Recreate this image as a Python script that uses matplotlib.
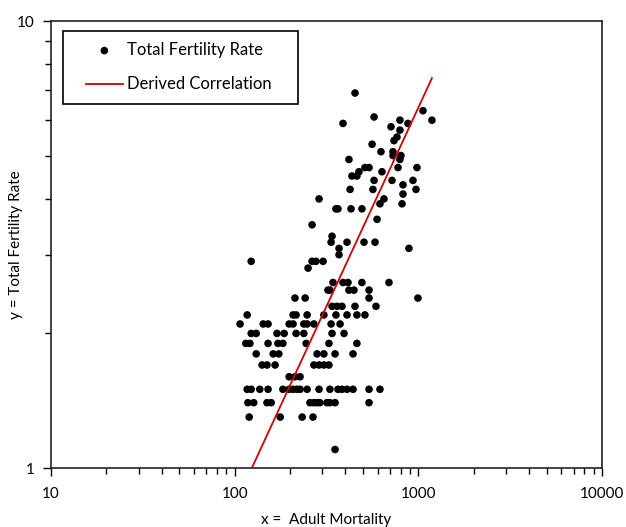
import matplotlib
matplotlib.use("Agg")
import matplotlib.pyplot as plt
from matplotlib.patches import Rectangle
from matplotlib.ticker import LogLocator, FuncFormatter, NullFormatter

plt.rcParams["font.family"] = ["Lato", "DejaVu Sans"]

# adult mortality (x) and total fertility rate (y)
mortality = [
    452, 1060, 1186, 574, 389, 794, 878, 710, 794, 765, 737, 560, 626, 728,
    728, 804, 794, 419, 512, 539, 983, 775, 475, 463, 435, 634, 574, 719,
    935, 825, 425, 566, 971, 825, 650, 618, 815, 288, 356, 365, 430, 493,
    596, 264, 339, 335, 409, 506, 581, 370, 370, 889, 123, 264, 277, 303,
    251,
    343, 389, 414, 493, 692,
    322, 330, 419, 446, 539,
    213, 242, 539, 995,
    339, 361, 384, 452, 588,
    117, 208, 216, 248, 306, 356, 409, 463, 512,
    107, 143, 152, 198, 208, 238, 248, 270, 335, 375,
    123, 131, 170, 186, 216, 238, 339, 394,
    115, 121, 152, 172, 183, 245, 326, 463,
    131, 162, 174, 281, 306, 352, 441,
    141, 150, 166, 270, 288, 306, 326,
    198, 213, 227,
    117, 123, 137, 152, 183, 198, 208, 218, 227, 248, 288, 330, 365, 384,
    409, 441, 539, 618,
    118, 127, 150, 158, 257, 270, 281, 291, 318, 330, 352, 539,
    120, 177, 233, 267,
    352,
]
fertility = [
    6.9, 6.3, 6.0, 6.1, 5.9, 6.0, 5.9, 5.8, 5.7, 5.5, 5.4, 5.3, 5.1, 5.1,
    5.0, 5.0, 4.9, 4.9, 4.7, 4.7, 4.7, 4.7, 4.6, 4.5, 4.5, 4.6, 4.4, 4.4,
    4.4, 4.3, 4.2, 4.2, 4.2, 4.1, 4.0, 3.9, 3.9, 4.0, 3.8, 3.8, 3.8, 3.8,
    3.6, 3.5, 3.3, 3.2, 3.2, 3.2, 3.2, 3.1, 3.0, 3.1, 2.9, 2.9, 2.9, 2.9,
    2.8,
    2.6, 2.6, 2.6, 2.6, 2.6,
    2.5, 2.5, 2.5, 2.5, 2.5,
    2.4, 2.4, 2.4, 2.4,
    2.3, 2.3, 2.3, 2.3, 2.3,
    2.2, 2.2, 2.2, 2.2, 2.2, 2.2, 2.2, 2.2, 2.2,
    2.1, 2.1, 2.1, 2.1, 2.1, 2.1, 2.1, 2.1, 2.1, 2.1,
    2.0, 2.0, 2.0, 2.0, 2.0, 2.0, 2.0, 2.0,
    1.9, 1.9, 1.9, 1.9, 1.9, 1.9, 1.9, 1.9,
    1.8, 1.8, 1.8, 1.8, 1.8, 1.8, 1.8,
    1.7, 1.7, 1.7, 1.7, 1.7, 1.7, 1.7,
    1.6, 1.6, 1.6,
    1.5, 1.5, 1.5, 1.5, 1.5, 1.5, 1.5, 1.5, 1.5, 1.5, 1.5, 1.5, 1.5, 1.5,
    1.5, 1.5, 1.5, 1.5,
    1.4, 1.4, 1.4, 1.4, 1.4, 1.4, 1.4, 1.4, 1.4, 1.4, 1.4, 1.4,
    1.3, 1.3, 1.3, 1.3,
    1.1,
]

# derived correlation line end points
fit_x = [124, 1186]
fit_y = [1.0, 7.45]

W, H = 626, 527
L, R, T, B = 51, 602, 21, 468  # axes box in pixels
fig = plt.figure(figsize=(W / 100, H / 100), dpi=100)
ax = fig.add_axes([L / W, 1 - B / H, (R - L) / W, (B - T) / H])


def ax_xy(px, py):
    # pixel position -> axes fraction, used for the legend placement only
    return (px - L) / (R - L), (B - py) / (B - T)


ax.scatter(mortality, fertility, s=30, color="black", edgecolor="none",
           label="Total Fertility Rate", zorder=3)
ax.plot(fit_x, fit_y, color="#d00000", lw=1.3, label="Derived Correlation",
        zorder=4)

ax.set_xscale("log")
ax.set_yscale("log")
ax.set_xlim(10, 10000)
ax.set_ylim(1, 10)

fmt = FuncFormatter(lambda v, _: f"{v:g}")
ax.xaxis.set_major_locator(LogLocator(base=10))
ax.xaxis.set_minor_locator(LogLocator(base=10, subs=range(2, 10)))
ax.yaxis.set_major_locator(LogLocator(base=10))
ax.yaxis.set_minor_locator(LogLocator(base=10, subs=range(2, 10)))
ax.xaxis.set_major_formatter(fmt)
ax.yaxis.set_major_formatter(fmt)
ax.xaxis.set_minor_formatter(NullFormatter())
ax.yaxis.set_minor_formatter(NullFormatter())

ax.tick_params(which="major", direction="out", length=6, width=1.0,
               labelsize=11, color="black", pad=8)
ax.tick_params(which="minor", direction="out", length=4, width=1.0,
               color="black")
ax.tick_params(axis="y", pad=6)

for side in ["top", "right", "bottom", "left"]:
    ax.spines[side].set_linewidth(1.2)
    ax.spines[side].set_color("#222222")

ax.set_xlabel("x =  Adult Mortality", fontsize=11, labelpad=8)
ax.set_ylabel("y = Total Fertility Rate", fontsize=11)
ax.yaxis.set_label_coords(*ax_xy(23, (T + B) / 2))

# legend frame drawn by hand so the box matches the original size
x0, y0 = ax_xy(63, 104)
x1, y1 = ax_xy(298, 31)
ax.add_patch(Rectangle((x0, y0), x1 - x0, y1 - y0, transform=ax.transAxes,
                       facecolor="white", edgecolor="black", lw=1.2,
                       zorder=5))
leg = ax.legend(loc="upper left", bbox_to_anchor=ax_xy(86, 42),
                borderaxespad=0, borderpad=0, fontsize=12, frameon=False,
                handlelength=2.2, handletextpad=0.25, labelspacing=1.1,
                scatterpoints=1)
leg.set_zorder(6)

fig.savefig("out.png", dpi=100)
